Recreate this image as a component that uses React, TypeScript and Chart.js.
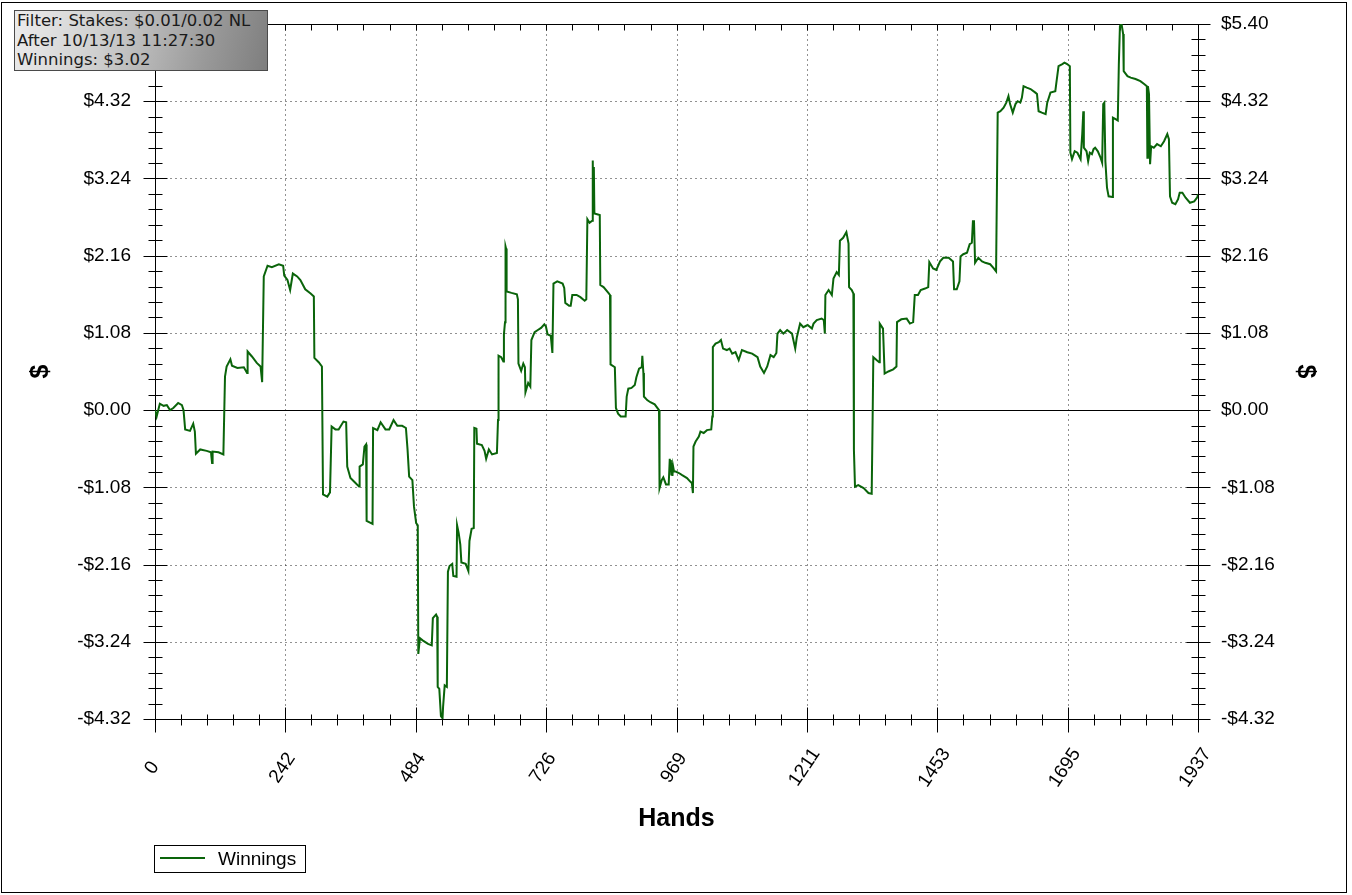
import React, { useEffect, useRef } from "react";
import { Chart, registerables } from "chart.js";

Chart.register(...registerables);

// ---- data ----
const hands = [
  0, 3, 9, 16, 22, 28, 34, 43, 50, 53, 56, 65, 71, 74, 76, 84, 96, 104, 106, 107, 118, 127,
  130, 133, 140, 143, 153, 165, 171, 172, 180, 189, 196, 199, 202, 209, 217, 230, 238, 240,
  246, 251, 256, 264, 270, 279, 289, 295, 296, 304, 310, 312, 320, 325, 328, 335, 341, 350,
  355, 357, 363, 371, 379, 380, 386, 389, 392, 393, 404, 405, 413, 419, 428, 435, 443, 450,
  459, 466, 469, 472, 478, 481, 485, 488, 489, 492, 497, 507, 514, 516, 522, 524, 525, 528,
  531, 534, 535, 538, 542, 544, 547, 552, 554, 560, 561, 564, 567, 569, 577, 582, 584, 588,
  592, 593, 597, 598, 607, 612, 615, 620, 626, 635, 637, 638, 643, 647, 648, 650, 651, 652,
  653, 662, 672, 674, 675, 680, 684, 687, 688, 693, 697, 699, 705, 711, 717, 723, 726, 729,
  735, 738, 740, 747, 757, 760, 762, 769, 772, 775, 783, 790, 798, 801, 803, 807, 812, 813,
  814, 815, 816, 826, 827, 833, 842, 845, 846, 854, 856, 860, 865, 874, 876, 879, 885, 891,
  894, 899, 904, 905, 907, 908, 914, 920, 928, 936, 937, 941, 944, 949, 954, 956, 957, 958,
  959, 960, 961, 962, 964, 967, 973, 979, 988, 994, 997, 999, 1000, 1004, 1010, 1013, 1019,
  1025, 1033, 1035, 1036, 1041, 1047, 1051, 1055, 1062, 1067, 1072, 1078, 1084, 1090, 1100,
  1109, 1119, 1124, 1131, 1137, 1143, 1149, 1154, 1156, 1161, 1167, 1174, 1183, 1189, 1192,
  1198, 1204, 1212, 1220, 1223, 1229, 1238, 1242, 1244, 1245, 1251, 1257, 1260, 1266, 1270,
  1272, 1278, 1284, 1288, 1289, 1294, 1297, 1298, 1300, 1306, 1316, 1325, 1331, 1333, 1334,
  1340, 1345, 1346, 1352, 1355, 1362, 1371, 1377, 1378, 1386, 1396, 1402, 1408, 1411, 1417,
  1422, 1430, 1436, 1438, 1445, 1451, 1458, 1464, 1474, 1482, 1484, 1489, 1494, 1496, 1501,
  1508, 1513, 1517, 1519, 1521, 1523, 1529, 1536, 1542, 1551, 1557, 1562, 1565, 1570, 1576,
  1581, 1585, 1588, 1593, 1598, 1602, 1607, 1610, 1613, 1619, 1626, 1635, 1638, 1641, 1647,
  1654, 1657, 1663, 1672, 1674, 1678, 1685, 1689, 1694, 1699, 1700, 1703, 1708, 1713, 1719,
  1722, 1724, 1725, 1730, 1733, 1736, 1740, 1743, 1746, 1751, 1756, 1759, 1761, 1763, 1765,
  1768, 1771, 1778, 1779, 1784, 1788, 1790, 1792, 1795, 1798, 1799, 1806, 1812, 1821, 1830,
  1837, 1842, 1843, 1844, 1846, 1848, 1850, 1855, 1861, 1868, 1874, 1880, 1883, 1885, 1889,
  1895, 1900, 1903, 1908, 1914, 1922, 1930, 1936, 1937,
];

const winnings = [
  0, -0.09, 0.09, 0.06, 0.07, 0.0, 0.03, 0.1, 0.07, 0.0, -0.27, -0.29, -0.19, -0.3, -0.61, -0.55, -0.57, -0.59, -0.74, -0.58, -0.59, -0.62,
  0.47, 0.61, 0.71, 0.62, 0.59, 0.6, 0.52, 0.82, 0.75, 0.66, 0.61, 0.39, 1.87, 2.02, 2.0, 2.04, 2.02, 1.88,
  1.82, 1.68, 1.91, 1.87, 1.82, 1.69, 1.63, 1.59, 0.73, 0.67, 0.61, -1.18, -1.21, -1.15, -0.23, -0.27, -0.27, -0.16,
  -0.17, -0.79, -0.95, -1.01, -1.07, -0.79, -0.76, -0.51, -0.48, -1.55, -1.59, -0.25, -0.28, -0.17, -0.27, -0.27, -0.14, -0.22,
  -0.22, -0.25, -0.55, -0.93, -0.98, -1.35, -1.58, -1.61, -3.41, -3.19, -3.22, -3.27, -3.29, -2.91, -2.86, -2.89, -3.87, -3.9,
  -4.28, -4.31, -4.15, -3.85, -3.87, -2.26, -2.18, -2.15, -2.32, -2.33, -1.61, -1.72, -1.88, -2.13, -2.15, -2.25, -1.83, -1.66,
  -1.65, -0.25, -0.26, -0.47, -0.49, -0.57, -0.68, -0.55, -0.62, -0.6, -0.14, 0.76, 0.74, 0.68, 1.06, 1.23, 2.29, 2.26,
  1.66, 1.64, 1.62, 1.55, 0.65, 0.55, 0.65, 0.6, 0.25, 0.38, 0.33, 0.98, 1.09, 1.12, 1.15, 1.2, 1.17, 1.06,
  1.04, 0.8, 1.77, 1.8, 1.77, 1.71, 1.5, 1.46, 1.46, 1.61, 1.61, 1.58, 1.53, 1.55, 2.67, 2.62, 2.65, 3.49,
  2.8, 3.4, 2.75, 2.73, 1.75, 1.72, 1.64, 1.61, 0.64, 0.6, 0.03, -0.05, -0.09, -0.09, 0.19, 0.3, 0.31, 0.35,
  0.46, 0.58, 0.6, 0.76, 0.52, 0.19, 0.14, 0.11, 0.08, 0.0, -1.09, -0.98, -0.94, -1.04, -1.04, -0.68, -0.85, -0.7,
  -0.9, -0.74, -0.92, -0.78, -0.86, -0.86, -0.88, -0.91, -0.95, -1.0, -1.02, -1.16, -0.51, -0.44, -0.37, -0.3, -0.32,
  -0.28, -0.27, -0.09, 0.88, 0.93, 0.95, 0.98, 0.86, 0.84, 0.86, 0.79, 0.81, 0.7, 0.84, 0.81,
  0.79, 0.74, 0.61, 0.52, 0.61, 0.77, 0.74, 0.8, 1.07, 1.12, 1.07, 1.12, 1.07, 0.86, 1.02,
  1.21, 1.16, 1.19, 1.14, 1.21, 1.26, 1.28, 1.26, 1.07, 1.61, 1.68, 1.61, 1.84, 1.93, 1.89,
  2.37, 2.41, 2.49, 2.33, 1.72, 1.68, 1.63, -0.56, -1.07, -1.05, -1.09, -1.16, -1.17, 0.05, 0.74,
  0.7, 0.67, 1.21, 1.14, 0.51, 0.54, 0.57, 0.61, 1.23, 1.27, 1.28, 1.21, 1.23, 1.61, 1.61,
  1.68, 1.7, 1.72, 2.07, 1.98, 1.96, 2.08, 2.13, 2.13, 2.08, 1.69, 1.69, 1.8, 2.15, 2.18,
  2.2, 2.32, 2.34, 2.64, 2.64, 2.06, 2.13, 2.08, 2.06, 2.04, 1.99, 1.94, 4.16, 4.18, 4.23,
  4.3, 4.39, 4.28, 4.16, 4.28, 4.32, 4.3, 4.37, 4.53, 4.51, 4.49, 4.44, 4.42, 4.18, 4.16,
  4.14, 4.3, 4.44, 4.46, 4.58, 4.81, 4.84, 4.86, 4.84, 4.81, 3.6, 3.51, 3.62, 3.6, 3.51,
  3.86, 4.18, 3.67, 3.62, 3.48, 3.6, 3.58, 3.65, 3.67, 3.62, 3.53, 3.46, 4.28, 4.3, 3.48,
  3.11, 2.99, 2.98, 4.09, 4.07, 4.05, 4.84, 5.37, 5.4, 5.26, 4.74, 4.67, 4.65, 4.63, 4.6,
  4.56, 4.53, 3.53, 4.53, 4.42, 3.44, 3.69, 3.67, 3.72, 3.69, 3.76, 3.86, 3.79, 2.99, 2.9,
  2.88, 2.95, 3.04, 3.04, 2.97, 2.9, 2.92, 2.98, 3.02,
];

const xTickValues = [0, 242, 484, 726, 969, 1211, 1453, 1695, 1937];
const yTickValues = [-4.32, -3.24, -2.16, -1.08, 0, 1.08, 2.16, 3.24, 4.32, 5.4];
const seriesName = "Winnings";
const xTitle = "Hands";
const yTitle = "$";
const infoLines = ["Filter: Stakes: $0.01/0.02 NL", "After 10/13/13 11:27:30", "Winnings: $3.02"];

const LINE_COLOR = "rgb(10,100,10)";
const LABEL_FONT = "'Liberation Sans', Arial, sans-serif";

// target plot area (pixels of the 1352x895 page)
const AREA = { left: 155, right: 1198, top: 24, bottom: 719 };

const fmtMoney = (v: number) => (v < -1e-9 ? "-" : "") + "$" + Math.abs(v).toFixed(2);

// the reference centres its rotated hand labels on the tick: pad shorter labels
// with spaces on both sides (a space is half a digit wide) so all have equal width
const maxXLabelLen = Math.max(...xTickValues.map((v) => String(v).length));
const fmtHand = (v: number) => {
  const s = String(v);
  const pad = " ".repeat(maxXLabelLen - s.length);
  return pad + s + pad;
};

// invisible tick marks used only as a gap between the axis and its labels
const gapGrid = (len: number) => ({
  display: true,
  drawOnChartArea: false,
  drawTicks: true,
  tickLength: len,
  color: "rgba(0,0,0,0)",
  tickColor: "rgba(0,0,0,0)",
});

const axisDecor = {
  id: "axisDecor",
  beforeDatasetsDraw(chart: any) {
    const { ctx, chartArea } = chart;
    const { left, right, top, bottom } = chartArea;
    const xs = chart.scales.x;
    const ys = chart.scales.y;
    const seg = (x1: number, y1: number, x2: number, y2: number) => {
      ctx.beginPath();
      ctx.moveTo(x1, y1);
      ctx.lineTo(x2, y2);
      ctx.stroke();
    };
    const px = (v: number) => Math.round(xs.getPixelForValue(v)) + 0.5;
    const py = (v: number) => Math.round(ys.getPixelForValue(v)) + 0.5;
    const L = Math.round(left) + 0.5;
    const R = Math.round(right) + 0.5;
    const T = Math.round(top) + 0.5;
    const B = Math.round(bottom) + 0.5;
    ctx.save();
    ctx.lineWidth = 1;
    // dotted grid
    ctx.strokeStyle = "#222";
    ctx.setLineDash([1, 4]);
    xTickValues.forEach((v, i) => {
      if (i === 0 || i === xTickValues.length - 1) return;
      seg(px(v), T, px(v), B);
    });
    yTickValues.forEach((v, i) => {
      if (v === 0 || i === yTickValues.length - 1 || i === 0) return;
      seg(L, py(v), R, py(v));
    });
    ctx.setLineDash([]);
    ctx.strokeStyle = "#000";
    // zero line
    seg(L, py(0), R, py(0));
    // axis lines
    seg(L, T, L, B);
    seg(R, T, R, B);
    seg(L, B, R, B);
    seg(L, T, R, T);
    // y ticks (left and right)
    for (let i = 0; i < yTickValues.length; i++) {
      const y = py(yTickValues[i]);
      seg(L - 12, y, L + 12, y);
      seg(R - 12, y, R + 12, y);
      if (i < yTickValues.length - 1) {
        const y0 = ys.getPixelForValue(yTickValues[i]);
        const y1 = ys.getPixelForValue(yTickValues[i + 1]);
        for (let k = 1; k < 5; k++) {
          const ym = Math.round(y0 + ((y1 - y0) * k) / 5) + 0.5;
          seg(L - 7, ym, L + 7, ym);
          seg(R - 7, ym, R + 7, ym);
        }
      }
    }
    // x ticks (bottom and top)
    for (let i = 0; i < xTickValues.length; i++) {
      const x = px(xTickValues[i]);
      seg(x, B - 12, x, B + 13);
      seg(x, T, x, T + 6);
      if (i < xTickValues.length - 1) {
        const x0 = xs.getPixelForValue(xTickValues[i]);
        const x1 = xs.getPixelForValue(xTickValues[i + 1]);
        for (let k = 1; k < 5; k++) {
          const xm = Math.round(x0 + ((x1 - x0) * k) / 5) + 0.5;
          seg(xm, B - 5, xm, B + 6);
          seg(xm, T, xm, T + 6);
        }
      }
    }
    ctx.restore();
  },
};

export default function App() {
  const canvasRef = useRef<HTMLCanvasElement | null>(null);

  useEffect(() => {
    document.body.style.margin = "0";
    const canvas = canvasRef.current;
    if (!canvas) return;
    const points = hands.map((h, i) => ({ x: h, y: winnings[i] }));
    const chart = new Chart(canvas, {
      type: "line",
      data: {
        datasets: [
          {
            label: seriesName,
            data: points,
            borderColor: LINE_COLOR,
            backgroundColor: LINE_COLOR,
            borderWidth: 2,
            pointRadius: 0,
            tension: 0,
            fill: false,
          },
        ],
      },
      options: {
        animation: false,
        responsive: false,
        devicePixelRatio: 1,
        events: [],
        layout: { padding: { left: 10, right: 10, top: 24, bottom: 0 } },
        plugins: { legend: { display: false }, tooltip: { enabled: false }, title: { display: false } },
        scales: {
          x: {
            type: "linear",
            position: "bottom",
            min: 0,
            max: 1937,
            afterBuildTicks: (s: any) => {
              s.ticks = xTickValues.map((v) => ({ value: v }));
            },
            afterFit: (s: any) => {
              s.height = 176;
            },
            grid: gapGrid(0),
            border: { display: false },
            ticks: {
              autoSkip: false,
              minRotation: 56,
              maxRotation: 56,
              padding: 25,
              labelOffset: 9,
              color: "#000",
              font: { family: LABEL_FONT, size: 19 },
              callback: (v: any) => fmtHand(Number(v)),
            },
            title: {
              display: true,
              text: xTitle,
              color: "#000",
              font: { family: LABEL_FONT, size: 25, weight: "bold" },
              padding: { top: 0, bottom: 61 },
            },
          },
          y: {
            type: "linear",
            position: "left",
            min: -4.32,
            max: 5.4,
            afterBuildTicks: (s: any) => {
              s.ticks = yTickValues.map((v) => ({ value: v }));
            },
            afterFit: (s: any) => {
              s.width = 145;
            },
            grid: gapGrid(24),
            border: { display: false },
            ticks: {
              padding: 0,
              color: "#000",
              font: { family: LABEL_FONT, size: 19 },
              callback: (v: any) => fmtMoney(Number(v)),
            },
            title: {
              display: true,
              text: yTitle,
              color: "#000",
              font: { family: LABEL_FONT, size: 25, weight: "bold" },
              padding: { top: 16, bottom: 0 },
            },
          },
          y2: {
            type: "linear",
            position: "right",
            min: -4.32,
            max: 5.4,
            afterBuildTicks: (s: any) => {
              s.ticks = yTickValues.map((v) => ({ value: v }));
            },
            afterFit: (s: any) => {
              s.width = 144;
            },
            grid: gapGrid(23),
            border: { display: false },
            ticks: {
              padding: 0,
              color: "#000",
              font: { family: LABEL_FONT, size: 19 },
              callback: (v: any) => fmtMoney(Number(v)),
            },
            title: {
              display: true,
              text: yTitle,
              color: "#000",
              font: { family: LABEL_FONT, size: 25, weight: "bold" },
              padding: { top: 22, bottom: 0 },
            },
          },
        },
      },
      plugins: [axisDecor],
    } as any);

    // nudge the layout padding so the plot area lands on the reference's frame
    const pad = (chart.options as any).layout.padding;
    for (let pass = 0; pass < 3; pass++) {
      const ca = chart.chartArea;
      const dTop = ca.top - AREA.top;
      const dBottom = ca.bottom - AREA.bottom;
      const dLeft = ca.left - AREA.left;
      const dRight = ca.right - AREA.right;
      if (Math.abs(dTop) < 0.5 && Math.abs(dBottom) < 0.5 && Math.abs(dLeft) < 0.5 && Math.abs(dRight) < 0.5) break;
      pad.top = Math.max(0, pad.top - dTop);
      pad.bottom = Math.max(0, pad.bottom + dBottom);
      pad.left = Math.max(0, pad.left - dLeft);
      pad.right = Math.max(0, pad.right + dRight);
      chart.update();
    }

    return () => chart.destroy();
  }, []);

  return (
    <div style={{ position: "relative", width: 1352, height: 895, background: "#fff", overflow: "hidden" }}>
      <canvas ref={canvasRef} width={1352} height={895} style={{ position: "absolute", left: 0, top: 0, width: 1352, height: 895 }} />
      <div
        style={{
          position: "absolute",
          left: 1,
          top: 2,
          width: 1346,
          height: 891,
          border: "1px solid #000",
          boxSizing: "border-box",
          pointerEvents: "none",
        }}
      />
      <div
        style={{
          position: "absolute",
          left: 14,
          top: 10,
          width: 254,
          height: 61,
          boxSizing: "border-box",
          border: "1px solid #4a4a4a",
          background: "linear-gradient(105deg, #ececec 0%, #cfcfcf 35%, #9a9a9a 75%, #7e7e7e 100%)",
          fontFamily: "'DejaVu Sans', Verdana, sans-serif",
          fontSize: 16.5,
          lineHeight: "19.5px",
          color: "#1a1a1a",
          paddingLeft: 2,
          whiteSpace: "nowrap",
        }}
      >
        {infoLines.map((t) => (
          <div key={t}>{t}</div>
        ))}
      </div>
      <div
        style={{
          position: "absolute",
          left: 154,
          top: 845,
          width: 152,
          height: 28,
          boxSizing: "border-box",
          border: "1px solid #000",
          background: "#fff",
        }}
      >
        <div style={{ position: "absolute", left: 5, top: 11, width: 45, height: 2, background: LINE_COLOR }} />
        <div
          style={{
            position: "absolute",
            left: 63,
            top: 0,
            lineHeight: "26px",
            fontFamily: LABEL_FONT,
            fontSize: 19,
            color: "#000",
          }}
        >
          {seriesName}
        </div>
      </div>
    </div>
  );
}
